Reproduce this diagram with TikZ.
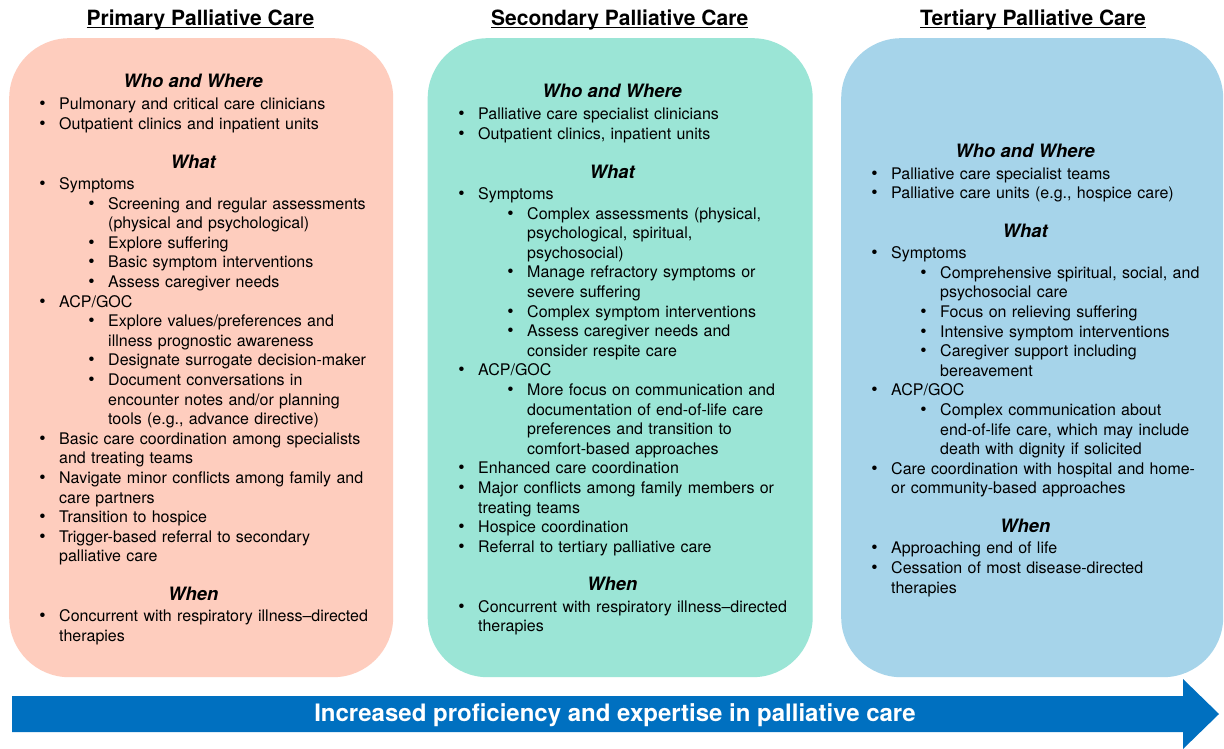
\documentclass[tikz,border=0pt]{standalone}
\usepackage{fontspec}
\setmainfont{TeX Gyre Heros}
\usepackage{tikz}
\definecolor{primaryback}{RGB}{254,205,190}
\definecolor{secondaryback}{RGB}{155,229,214}
\definecolor{tertiaryback}{RGB}{166,212,234}
\definecolor{arrowblue}{RGB}{0,112,192}

\setlength{\parindent}{0pt}
\setlength{\parskip}{0pt}
\frenchspacing

\newsavebox{\titlebox}
\newcommand{\ultitle}[1]{\sbox{\titlebox}{#1}\rlap{\rule[-2.6pt]{\wd\titlebox}{1.3pt}}\usebox{\titlebox}}
\newcommand{\headfont}{\bfseries\itshape\fontsize{18.4}{20}\selectfont}
\newcommand{\carebullet}{{\fontsize{18}{19.6}\selectfont\textbullet}}
\newcommand{\firsthead}[1]{\makebox[268pt]{\rule{0pt}{14pt}\headfont #1}\par\vspace{2.4pt}}
\newcommand{\carehead}[1]{\par\vspace{18.9pt}\noindent\makebox[268pt]{\headfont #1}\par\vspace{1.9pt}}
\newcommand{\careitem}[1]{\par\noindent\llap{\carebullet\hspace{13.5pt}}#1\par}
\newcommand{\caresub}[1]{\par\noindent\hangindent=49pt\hangafter=0\relax\llap{\carebullet\hspace{13.5pt}}#1\par}

\tikzset{
  pcbox/.style={rounded corners=60pt, inner sep=0pt, minimum height=639pt, anchor=north west},
  pctitle/.style={anchor=base, inner sep=0pt, font=\bfseries\fontsize{21}{24}\selectfont},
  pctext/.style={anchor=north west, inner sep=0pt, text width=330pt, align=left,
    font=\fontsize{16}{19.6}\selectfont},
  arrowlabel/.style={anchor=base, inner sep=0pt, text=white, font=\bfseries\fontsize{24}{26}\selectfont}
}

\begin{document}
\begin{tikzpicture}[x=1pt,y=-1pt]
\useasboundingbox (0,0) rectangle (1224,749);
\fill[white] (0,0) rectangle (1224,749);

% the three levels
\node[pcbox, fill=primaryback, minimum width=384pt] (primarybox) at (9,38) {};
\node[pcbox, fill=secondaryback, minimum width=385pt] (secondarybox) at (427.5,38) {};
\node[pcbox, fill=tertiaryback, minimum width=382pt] (tertiarybox) at (841,38) {};

\node[pctitle] (primarytitle) at (200.5,25.3) {\ultitle{Primary Palliative Care}};
\node[pctitle] (secondarytitle) at (619.7,25.3) {\ultitle{Secondary Palliative Care}};
\node[pctitle] (tertiarytitle) at (1033,25.3) {\ultitle{Tertiary Palliative Care}};

\node[pctext] (primarytext) at (59,73.8) {
\firsthead{Who and Where}
\careitem{Pulmonary and critical care clinicians}
\careitem{Outpatient clinics and inpatient units}
\carehead{What}
\careitem{Symptoms}
\caresub{Screening and regular assessments\newline(physical and psychological)}
\caresub{Explore suffering}
\caresub{Basic symptom interventions}
\caresub{Assess caregiver needs}
\careitem{ACP/GOC}
\caresub{Explore values/preferences and\newline illness prognostic awareness}
\caresub{Designate surrogate decision-maker}
\caresub{Document conversations in\newline encounter notes and/or planning\newline tools (e.g., advance directive)}
\careitem{Basic care coordination among specialists\newline and treating teams}
\careitem{Navigate minor conflicts among family and\newline care partners}
\careitem{Transition to hospice}
\careitem{Trigger-based referral to secondary\newline palliative care}
\carehead{When}
\careitem{Concurrent with respiratory illness--directed\newline therapies}
};

\node[pctext] (secondarytext) at (478,83.8) {
\firsthead{Who and Where}
\careitem{Palliative care specialist clinicians}
\careitem{Outpatient clinics, inpatient units}
\carehead{What}
\careitem{Symptoms}
\caresub{Complex assessments (physical,\newline psychological, spiritual,\newline psychosocial)}
\caresub{Manage refractory symptoms or\newline severe suffering}
\caresub{Complex symptom interventions}
\caresub{Assess caregiver needs and\newline consider respite care}
\careitem{ACP/GOC}
\caresub{More focus on communication and\newline documentation of end-of-life care\newline preferences and transition to\newline comfort-based approaches}
\careitem{Enhanced care coordination}
\careitem{Major conflicts among family members or\newline treating teams}
\careitem{Hospice coordination}
\careitem{Referral to tertiary palliative care}
\carehead{When}
\careitem{Concurrent with respiratory illness--directed\newline therapies}
};

\node[pctext] (tertiarytext) at (891,143) {
\firsthead{Who and Where}
\careitem{Palliative care specialist teams}
\careitem{Palliative care units (e.g., hospice care)}
\carehead{What}
\careitem{Symptoms}
\caresub{Comprehensive spiritual, social, and\newline psychosocial care}
\caresub{Focus on relieving suffering}
\caresub{Intensive symptom interventions}
\caresub{Caregiver support including\newline bereavement}
\careitem{ACP/GOC}
\caresub{Complex communication about\newline end-of-life care, which may include\newline death with dignity if solicited}
\careitem{Care coordination with hospital and home-\newline or community-based approaches}
\carehead{When}
\careitem{Approaching end of life}
\careitem{Cessation of most disease-directed\newline therapies}
};

% progression arrow
\fill[arrowblue] (12,696) -- (1183,696) -- (1183,679) -- (1219,714) -- (1183,749) -- (1183,732) -- (12,732) -- cycle;
\node[arrowlabel] (progress) at (615,721.8) {Increased proficiency and expertise in palliative care};
\end{tikzpicture}
\end{document}
